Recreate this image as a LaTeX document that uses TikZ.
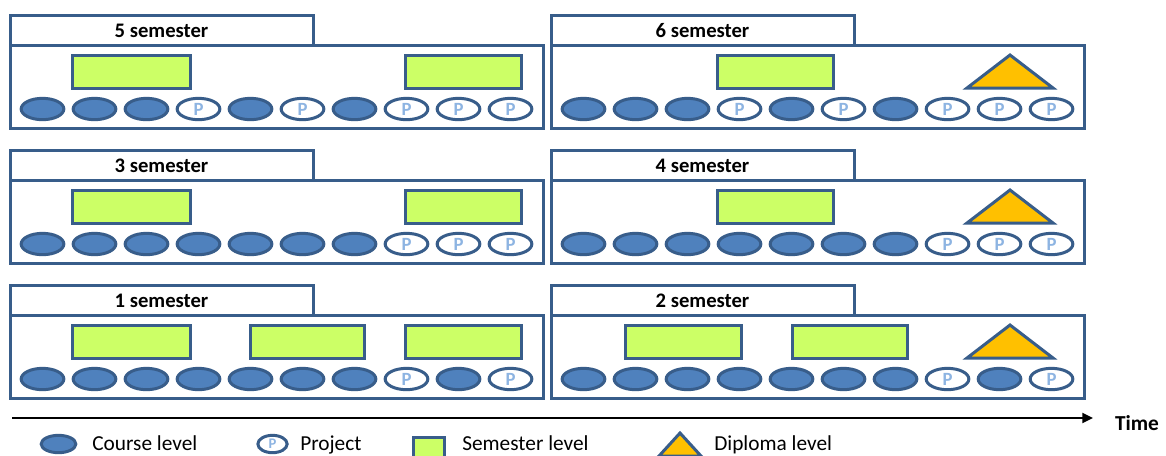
\documentclass[tikz,border=0pt]{standalone}
\usepackage{fontspec}
\setmainfont{Carlito}
\usetikzlibrary{shapes.geometric,arrows.meta}
\definecolor{bord}{RGB}{56,93,138}
\definecolor{cfill}{RGB}{79,129,189}
\definecolor{gfill}{RGB}{204,255,102}
\definecolor{ofill}{RGB}{255,192,0}
\definecolor{pcol}{RGB}{141,180,226}
\tikzset{
  panelline/.style={draw=bord, line width=2.25pt, fill=white},
  course/.style={ellipse, draw=bord, fill=cfill, line width=2.25pt,
    minimum width=32pt, minimum height=16pt, inner sep=0pt},
  proj/.style={course, fill=white, text=pcol, font=\bfseries\fontsize{14}{14}\selectfont},
  cC/.style={course, node contents={}},
  cP/.style={proj, node contents={P}},
  semrect/.style={draw=bord, fill=gfill, line width=2.25pt},
  diptri/.style={draw=bord, fill=ofill, line width=2.25pt, line join=miter},
  tabtext/.style={font=\bfseries\fontsize{15.5}{15.5}\selectfont, inner sep=0pt},
  legtext/.style={font=\fontsize{16}{16}\selectfont, anchor=base west, inner sep=0pt},
  timeline/.style={line width=1.5pt, -{Triangle[length=8pt,width=7.5pt]}},
}
% #1 x offset, #2 y top, #3 label, #4 pattern, #5 name
\newcommand\semPanel[5]{%
  \draw[panelline] (#1+10,#2) rectangle (#1+313,#2+30);
  \draw[panelline] (#1+10,#2+30) rectangle (#1+543,#2+113);
  \node[tabtext] (tab#5) at (#1+161.5,#2+15.5) {#3};
  \foreach \t [count=\i from 0] in {#4} {
    \node (e#5-\i) at (#1+42.5+52*\i, #2+94) [c\t];
  }
}
\newcommand\semRect[3]{% #1 left, #2 right, #3 y top
  \draw[semrect] (#1,#3+40) rectangle (#2,#3+73);
}
\newcommand\dipTri[1]{% #1 y top
  \draw[diptri] (967,#1+73) -- (1010,#1+40) -- (1053,#1+73) -- cycle;
}
\begin{document}
\begin{tikzpicture}[x=0.75pt,y=-0.75pt]
\useasboundingbox (0,0) rectangle (1166,455);
\clip (0,0) rectangle (1166,455);
\fill[white] (0,0) rectangle (1166,455);
% row 1
\semPanel{0}{15}{5 semester}{C,C,C,P,C,P,C,P,P,P}{five}
\semRect{72}{190}{15}
\semRect{405}{521}{15}
\semPanel{541}{15}{6 semester}{C,C,C,P,C,P,C,P,P,P}{six}
\semRect{717}{833}{15}
\dipTri{15}
% row 2
\semPanel{0}{150}{3 semester}{C,C,C,C,C,C,C,P,P,P}{three}
\semRect{72}{190}{150}
\semRect{405}{521}{150}
\semPanel{541}{150}{4 semester}{C,C,C,C,C,C,C,P,P,P}{four}
\semRect{717}{833}{150}
\dipTri{150}
% row 3
\semPanel{0}{285}{1 semester}{C,C,C,C,C,C,C,P,C,P}{one}
\semRect{72}{190}{285}
\semRect{250}{364}{285}
\semRect{405}{521}{285}
\semPanel{541}{285}{2 semester}{C,C,C,C,C,C,C,P,C,P}{two}
\semRect{625}{741}{285}
\semRect{792}{907}{285}
\dipTri{285}
% time axis
\coordinate (ts) at (12,418);
\coordinate (te) at (1093,418);
\draw[timeline] (ts) -- (te);
\node[font=\bfseries\fontsize{16}{16}\selectfont, inner sep=0pt] (time) at (1137,423) {Time};
% legend
\node[course, minimum width=26pt, minimum height=13pt] (lc) at (58.5,444) {};
\node[legtext] (lct) at (92,450) {Course level};
\node[proj, minimum width=22pt, minimum height=13pt, font=\bfseries\fontsize{11}{11}\selectfont] (lp) at (272.5,444) {P};
\node[legtext] (lpt) at (300,450) {Project};
\draw[semrect] (413,437) rectangle (444,468);
\node[legtext] (lst) at (462,450) {Semester level};
\draw[diptri] (659,456) -- (680,433) -- (701,456) -- cycle;
\node[legtext] (ldt) at (714,450) {Diploma level};
\end{tikzpicture}
\end{document}
